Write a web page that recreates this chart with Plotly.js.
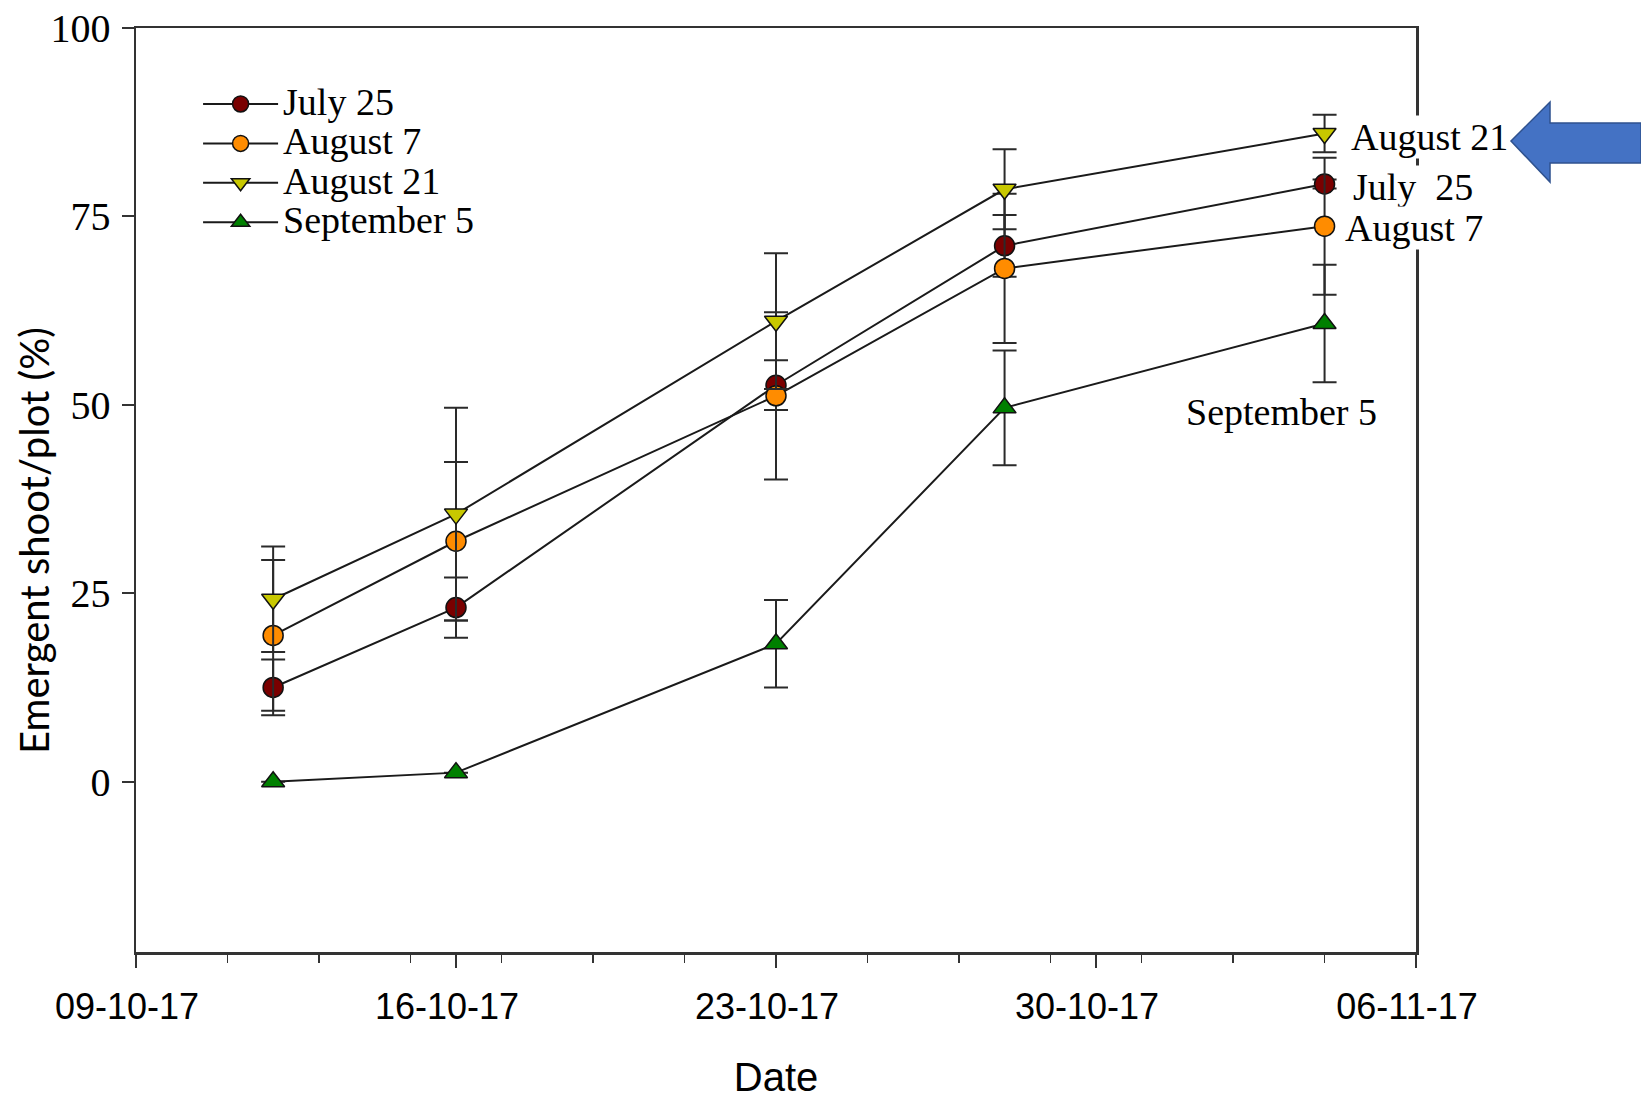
<!DOCTYPE html>
<html>
<head>
<meta charset="utf-8">
<script src="https://cdn.plot.ly/plotly-3.0.1.min.js"></script>
<style>
html,body{margin:0;padding:0;background:#fff;}
#chart{width:1641px;height:1099px;}
</style>
</head>
<body>
<div id="chart"></div>
<script>
// ---- data ----
const dates = ['2017-10-12', '2017-10-16', '2017-10-23', '2017-10-28', '2017-11-04'];

const seriesNames = ['July 25', 'August 7', 'August 21', 'September 5'];

const july25 = [12.5, 23.1, 52.6, 71.1, 79.3];
const july25Err = [3.7, 4.0, 3.3, 4.1, 0.6];

const august7 = [19.4, 31.9, 51.2, 68.1, 73.7];
const august7Err = [10.0, 10.5, 11.1, 9.9, 9.1];

const august21 = [24.2, 35.5, 61.1, 78.6, 86.0];
const august21Err = [7.0, 14.1, 9.0, 5.3, 2.5];

const september5 = [0.0, 1.2, 18.3, 49.6, 60.8];
const september5Err = [0.0, 0.0, 5.8, 7.6, 7.8];

const xTickVals = ['2017-10-09', '2017-10-16', '2017-10-23', '2017-10-30', '2017-11-06'];
const xTickText = ['09-10-17', '16-10-17', '23-10-17', '30-10-17', '06-11-17'];
const yTickVals = [0, 25, 50, 75, 100];

// ---- styles ----
const colors = ['#7a0000', '#ff8c00', '#c8c800', '#008000'];
const symbols = ['circle', 'circle', 'triangle-down', 'triangle-up'];
const values = [july25, august7, august21, september5];
const errs = [july25Err, august7Err, august21Err, september5Err];

const traces = values.map((v, i) => ({
  type: 'scatter',
  mode: 'lines+markers',
  name: '<span style="font-size:38px">' + seriesNames[i] + '</span>',
  x: dates,
  y: v,
  line: {color: '#1a1a1a', width: 2},
  marker: {
    symbol: symbols[i],
    size: 20,
    color: colors[i],
    line: {color: '#111', width: 1.5}
  },
  error_y: {
    type: 'data',
    array: errs[i],
    visible: true,
    color: '#2a2a2a',
    thickness: 2,
    width: 12
  }
}));

const serif = 'Liberation Serif, Times New Roman, serif';
const sans = 'Liberation Sans, Arial, sans-serif';

const layout = {
  width: 1641,
  height: 1099,
  paper_bgcolor: '#ffffff',
  plot_bgcolor: '#ffffff',
  margin: {l: 136, r: 225, t: 28, b: 147},
  showlegend: true,
  legend: {
    x: 0.0485, y: 0.9445, xanchor: 'left', yanchor: 'top',
    bgcolor: 'rgba(0,0,0,0)',
    font: {family: serif, size: 28, color: '#000'},
    itemwidth: 75
  },
  xaxis: {
    type: 'date',
    range: ['2017-10-09', '2017-11-06'],
    tickmode: 'array',
    tickvals: xTickVals,
    ticktext: xTickText,
    ticks: 'outside',
    ticklen: 13,
    tickwidth: 2,
    tickcolor: '#333',
    showline: true,
    linecolor: '#333',
    linewidth: 2.5,
    mirror: true,
    showgrid: false,
    zeroline: false,
    ticklabelstandoff: 8,
    ticklabelshift: -9,
    tickfont: {family: sans, size: 36, color: '#000'},
    minor: {
      tickmode: 'linear',
      tick0: '2017-10-09',
      dtick: 2 * 86400000,
      ticks: 'outside',
      ticklen: 8,
      tickwidth: 1.5,
      tickcolor: '#333',
      showgrid: false
    },
    title: {text: 'Date', font: {family: sans, size: 40, color: '#000'}, standoff: 38}
  },
  yaxis: {
    range: [-22.6, 100],
    tickmode: 'array',
    tickvals: yTickVals,
    ticks: 'outside',
    ticklen: 12,
    tickwidth: 2,
    tickcolor: '#333',
    showline: true,
    linecolor: '#333',
    linewidth: 2.5,
    mirror: true,
    showgrid: false,
    zeroline: false,
    ticklabelstandoff: 3,
    tickfont: {family: serif, size: 40, color: '#000'}
  },
  annotations: [
    {xref: 'paper', yref: 'paper', x: -0.0797, y: 0.4459, xanchor: 'center', yanchor: 'middle',
     text: 'Emergent shoot/plot (%)', textangle: -90, showarrow: false,
     font: {family: 'Lato, Liberation Sans, sans-serif', size: 40, color: '#000'}},
    {xref: 'paper', yref: 'paper', x: 0.9484, y: 0.882, xanchor: 'left', yanchor: 'middle',
     text: 'August 21', showarrow: false, bgcolor: '#ffffff', borderpad: 0,
     font: {family: serif, size: 38, color: '#000'}},
    {xref: 'paper', yref: 'paper', x: 0.95, y: 0.828, xanchor: 'left', yanchor: 'middle',
     text: 'July\u00a0 25', showarrow: false, bgcolor: '#ffffff', borderpad: 0,
     font: {family: serif, size: 38, color: '#000'}},
    {xref: 'paper', yref: 'paper', x: 0.944, y: 0.7835, xanchor: 'left', yanchor: 'middle',
     text: 'August 7', showarrow: false, bgcolor: '#ffffff', borderpad: 0,
     font: {family: serif, size: 38, color: '#000'}},
    {xref: 'paper', yref: 'paper', x: 0.8189, y: 0.5846, xanchor: 'left', yanchor: 'middle',
     text: 'September 5', showarrow: false,
     font: {family: serif, size: 38, color: '#000'}}
  ],
  shapes: [
    {type: 'path', xref: 'paper', yref: 'paper', layer: 'above',
     path: 'M1.0742,0.8777 L1.1047,0.9199 L1.1047,0.8972 L1.1758,0.8972 L1.1758,0.8539 L1.1047,0.8539 L1.1047,0.8333 Z',
     fillcolor: '#4472c4', line: {color: '#2f528f', width: 1.5}}
  ]
};

Plotly.newPlot('chart', traces, layout, {displayModeBar: false, staticPlot: true});
</script>
</body>
</html>
